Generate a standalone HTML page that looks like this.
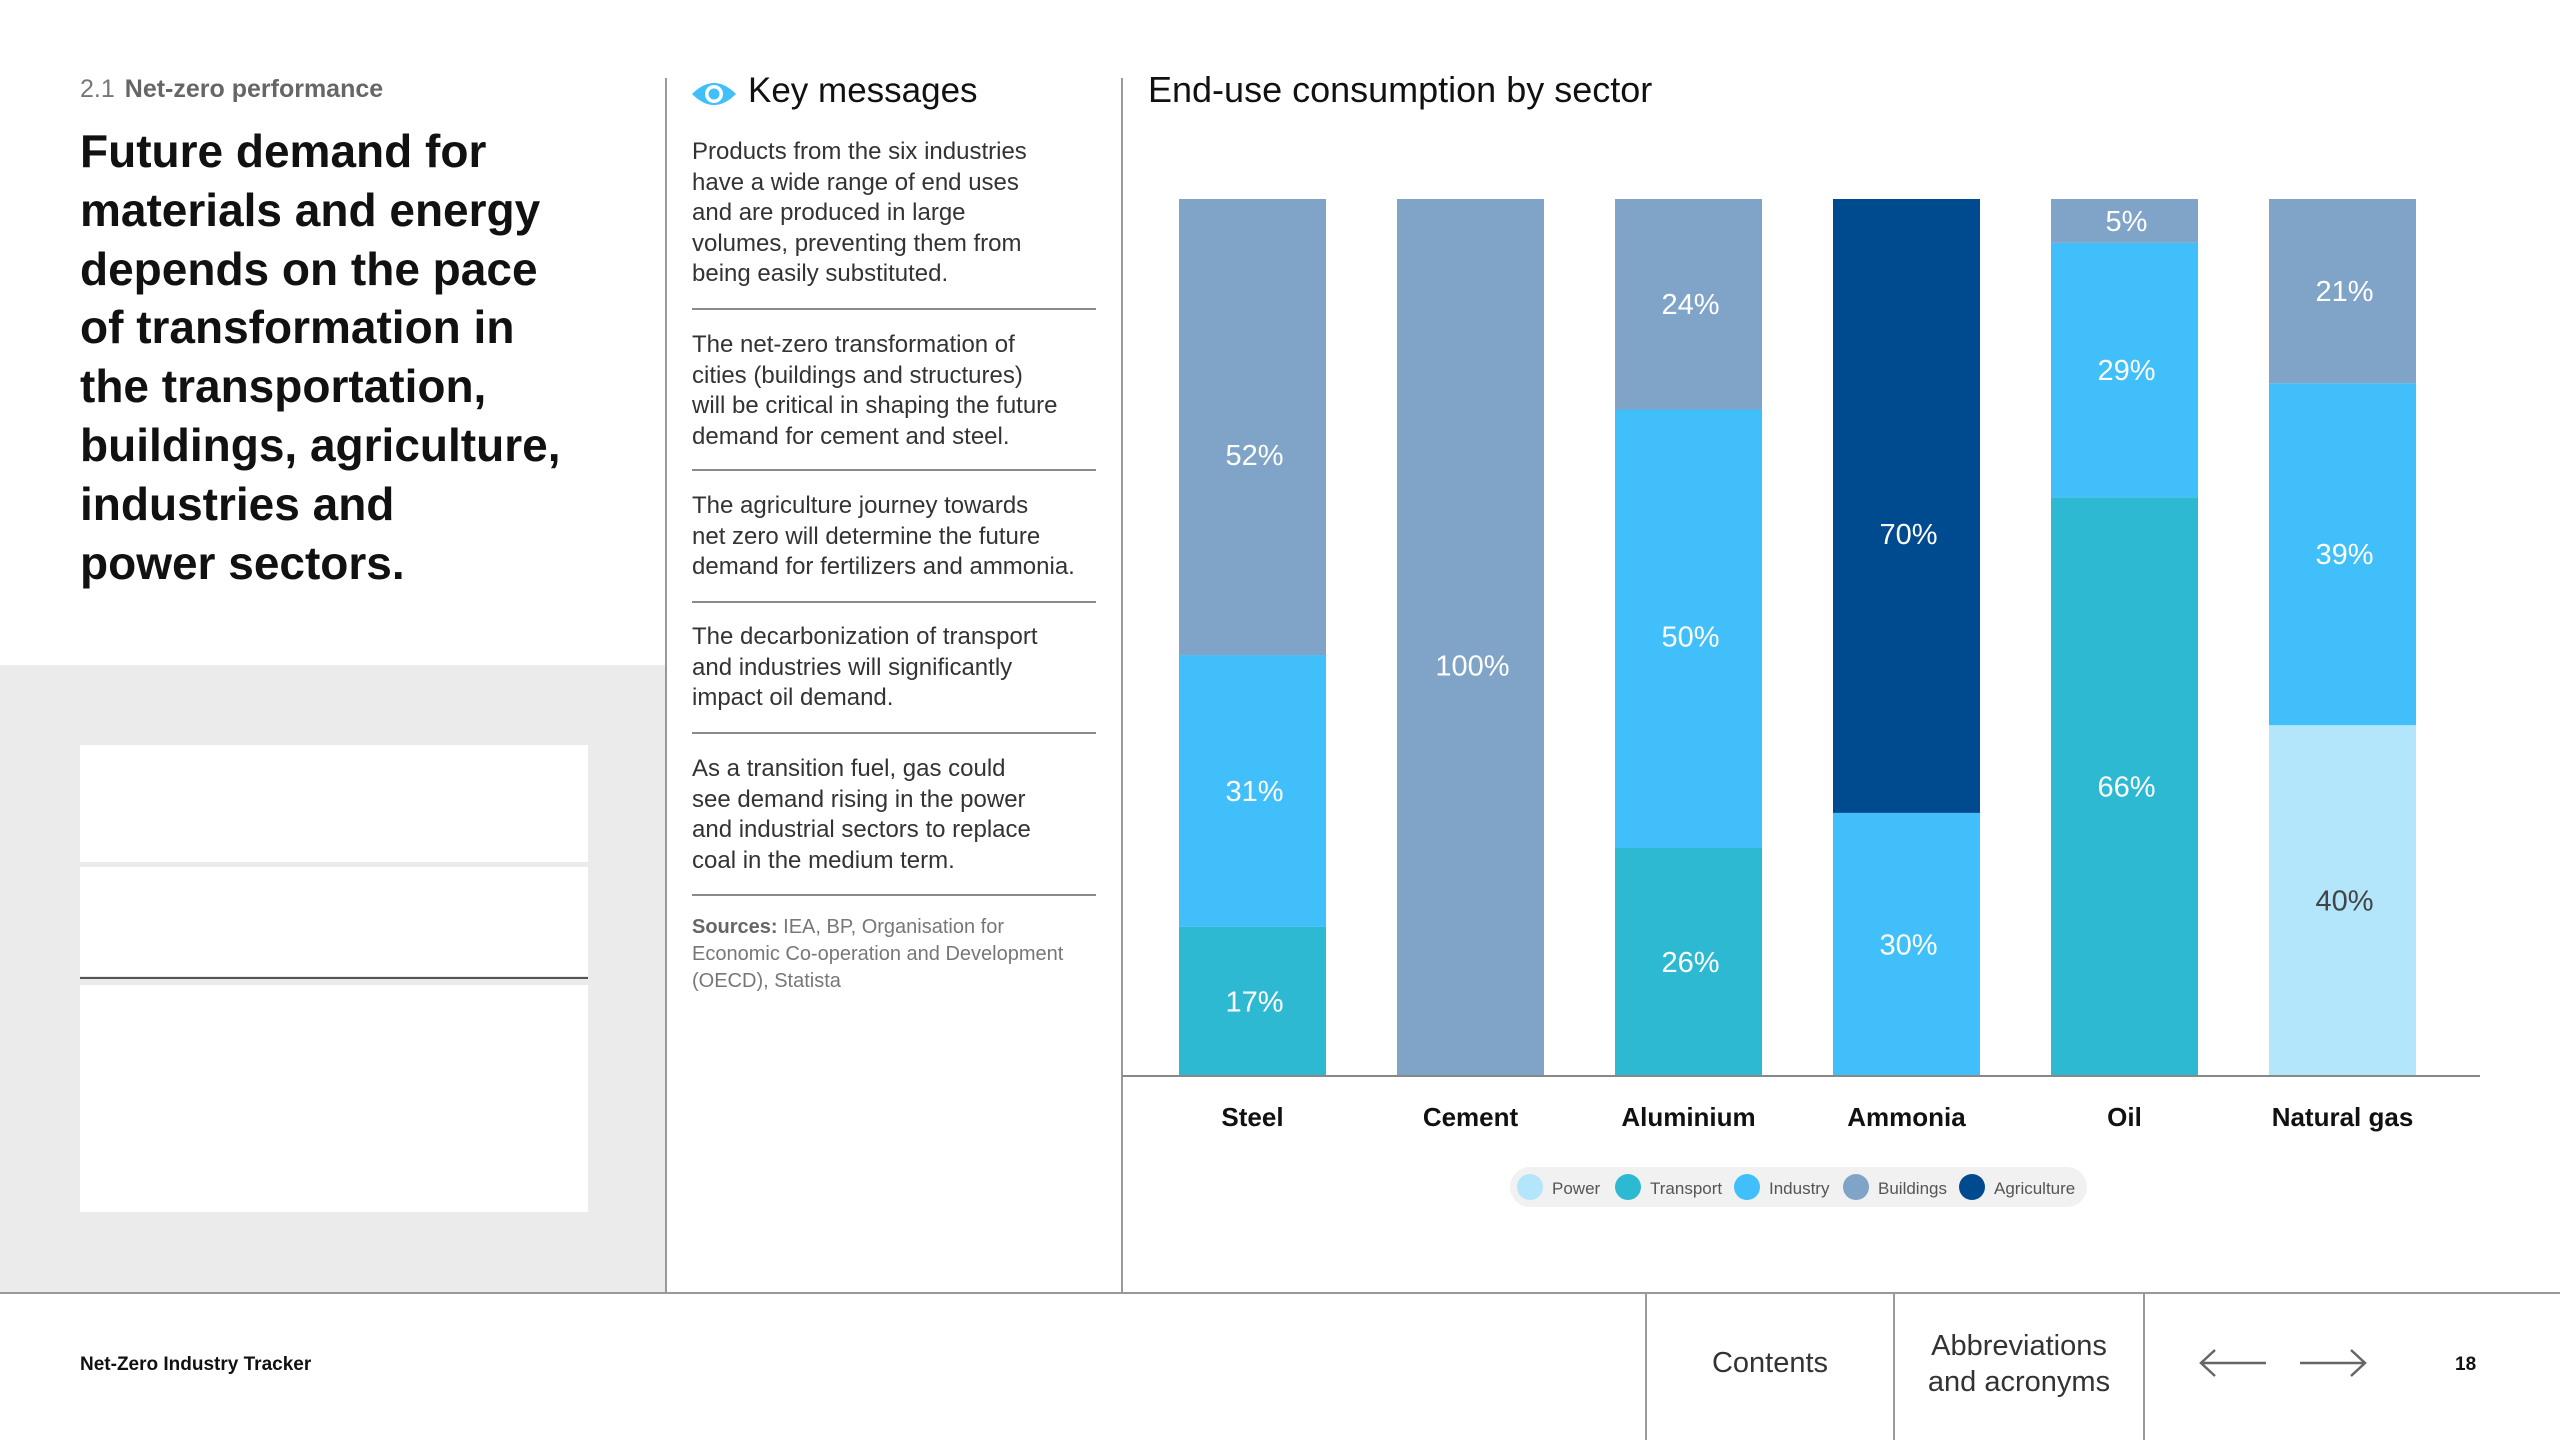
<!DOCTYPE html>
<html><head><meta charset="utf-8">
<style>
body{margin:0;width:2560px;height:1440px;position:relative;background:#fff;font-family:"Liberation Sans",sans-serif;overflow:hidden;color:#111}
.abs{position:absolute}
.km p{margin:0;font-size:24px;line-height:30.5px;color:#333;white-space:nowrap}
.sep{position:absolute;left:692px;width:404px;height:2px;background:#8a8a8a}
</style></head><body>
<div class="abs" style="left:80px;top:75px;font-size:25px;color:#777"><span style="margin-right:10px">2.1</span><b style="color:#666">Net-zero performance</b></div>
<div class="abs" style="left:80px;top:122px;font-size:46px;line-height:58.8px;font-weight:bold;color:#111;white-space:nowrap">Future demand for<br>materials and energy<br>depends on the pace<br>of transformation in<br>the transportation,<br>buildings, agriculture,<br>industries and<br>power sectors.</div>
<div class="abs" style="left:0;top:665px;width:666px;height:628px;background:#ebebeb"></div>
<div class="abs" style="left:80px;top:745px;width:508px;height:117px;background:#fff"></div>
<div class="abs" style="left:80px;top:867px;width:508px;height:109px;background:#fff"></div>
<div class="abs" style="left:80px;top:977px;width:508px;height:2px;background:#555"></div>
<div class="abs" style="left:80px;top:985px;width:508px;height:227px;background:#fff"></div>
<div class="abs" style="left:665px;top:78px;width:2px;height:1215px;background:#999"></div>
<div class="abs" style="left:1121px;top:78px;width:2px;height:1215px;background:#999"></div>

<svg class="abs" style="left:690px;top:78px" width="48" height="32" viewBox="0 0 48 32"><path d="M2 16 Q24 -6 46 16 Q24 38 2 16Z" fill="#40bffa"/><circle cx="24" cy="16" r="9" fill="#fff"/><circle cx="24" cy="16" r="5.5" fill="#40bffa"/></svg>
<div class="abs" style="left:748px;top:71px;font-size:35px;color:#111">Key messages</div>
<div class="km">
<p class="abs" style="left:692px;top:137px">Products from the six industries<br>have a wide range of end uses<br>and are produced in large<br>volumes, preventing them from<br>being easily substituted.</p>
<div class="sep" style="top:308px"></div>
<p class="abs" style="left:692px;top:330px">The net-zero transformation of<br>cities (buildings and structures)<br>will be critical in shaping the future<br>demand for cement and steel.</p>
<div class="sep" style="top:469px"></div>
<p class="abs" style="left:692px;top:491px">The agriculture journey towards<br>net zero will determine the future<br>demand for fertilizers and ammonia.</p>
<div class="sep" style="top:601px"></div>
<p class="abs" style="left:692px;top:622px">The decarbonization of transport<br>and industries will significantly<br>impact oil demand.</p>
<div class="sep" style="top:732px"></div>
<p class="abs" style="left:692px;top:754px">As a transition fuel, gas could<br>see demand rising in the power<br>and industrial sectors to replace<br>coal in the medium term.</p>
<div class="sep" style="top:894px"></div>
</div>
<div class="abs" style="left:692px;top:914px;font-size:20px;line-height:27px;color:#777;white-space:nowrap"><b style="color:#666">Sources:</b> IEA, BP, Organisation for<br>Economic Co-operation and Development<br>(OECD), Statista</div>

<div class="abs" style="left:1148px;top:69px;font-size:36px;color:#111">End-use consumption by sector</div>
<svg id="chart" class="abs" style="left:0;top:0" width="2560" height="1293"></svg>

<div class="abs" style="left:0;top:1292px;width:2560px;height:2px;background:#999"></div>
<div class="abs" style="left:80px;top:1354px;font-size:19px;font-weight:bold">Net-Zero Industry Tracker</div>
<div class="abs" style="left:1645px;top:1293px;width:2px;height:147px;background:#999"></div>
<div class="abs" style="left:1893px;top:1293px;width:2px;height:147px;background:#999"></div>
<div class="abs" style="left:2143px;top:1293px;width:2px;height:147px;background:#999"></div>
<div class="abs" style="left:1647px;top:1347px;width:246px;text-align:center;font-size:29px;color:#333">Contents</div>
<div class="abs" style="left:1895px;top:1328px;width:248px;text-align:center;font-size:29px;line-height:36px;color:#333">Abbreviations<br>and acronyms</div>
<svg class="abs" style="left:2198px;top:1348px" width="70" height="30"><path d="M68 15H3M17 2L3 15L17 28" stroke="#666" stroke-width="2.5" fill="none"/></svg>
<svg class="abs" style="left:2298px;top:1348px" width="70" height="30"><path d="M2 15H67M53 2L67 15L53 28" stroke="#666" stroke-width="2.5" fill="none"/></svg>
<div class="abs" style="left:2455px;top:1354px;font-size:19px;font-weight:bold">18</div>

<script>
const categories=["Steel","Cement","Aluminium","Ammonia","Oil","Natural gas"];
const seriesNames=["Power","Transport","Industry","Buildings","Agriculture"];
const power=[0,0,0,0,0,40];
const transport=[17,0,26,0,66,0];
const industry=[31,0,50,30,29,39];
const buildings=[52,100,24,0,5,21];
const agriculture=[0,0,0,70,0,0];
const colors=["#b3e5fb","#2eb9d2","#40bffa","#7fa4c8","#004a8f"];
const series=[power,transport,industry,buildings,agriculture];
const NS="http://www.w3.org/2000/svg";
const svg=document.getElementById('chart');
const x0=1179,pitch=218,bw=147,yBase=1076,yTop=199;
const xs=i=>x0+i*pitch;
const ys=v=>yBase-(v/100)*(yBase-yTop);
function mk(t,a){const e=document.createElementNS(NS,t);for(const k in a)e.setAttribute(k,a[k]);svg.appendChild(e);return e;}
categories.forEach((c,i)=>{
  let cum=0;
  series.forEach((s,j)=>{
    const v=s[i];if(!v)return;
    const r=mk('rect',{x:xs(i),y:ys(cum+v),width:bw,height:ys(cum)-ys(cum+v),fill:colors[j]});
    
    
    const nudge=(j>=3&&v>=50)?28:((j===2&&v>=45)?8:0);
    const t=mk('text',{x:xs(i)+bw/2+2,y:(ys(cum)+ys(cum+v))/2+10+nudge,'text-anchor':'middle','font-size':29,fill:j===0?'#444':'#fff'});
    t.textContent=v+'%';
    
    
    cum+=v;
  });
  const l=mk('text',{x:xs(i)+bw/2,y:1126,'text-anchor':'middle','font-size':26,'font-weight':'bold',fill:'#111'});
  l.textContent=c;
  
  
});
const ax=mk('line',{x1:1122,x2:2480,y1:yBase,y2:yBase,stroke:'#888','stroke-width':2});


const bg=mk('rect',{x:1510,y:1167,width:577,height:40,rx:20,fill:'#f1f1f1'});


const lx=[1530,1628,1747,1856,1972];
seriesNames.forEach((n,j)=>{
  const c=mk('circle',{cx:lx[j],cy:1187,r:13,fill:colors[j]});
  
  
  const t=mk('text',{x:lx[j]+22,y:1194,'font-size':17,fill:'#555'});
  t.textContent=n;
  
  
});
</script>
</body></html>
